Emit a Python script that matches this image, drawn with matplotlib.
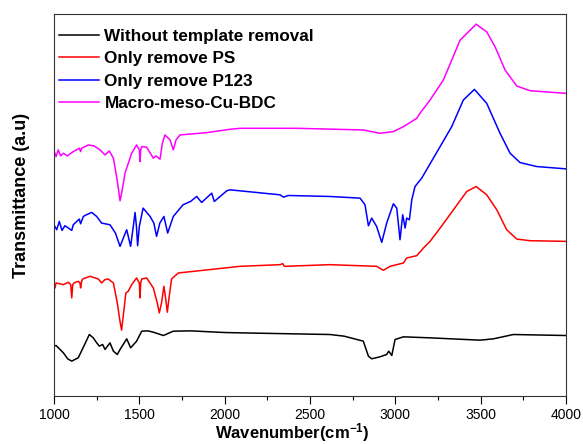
import matplotlib
matplotlib.use("Agg")
import matplotlib.pyplot as plt
from matplotlib.ticker import MultipleLocator

plt.rcParams["font.family"] = ["Liberation Sans", "DejaVu Sans"]
plt.rcParams["mathtext.fontset"] = "custom"
plt.rcParams["mathtext.rm"] = "Liberation Sans:bold"
plt.rcParams["mathtext.it"] = "Liberation Sans:bold"

# (wavenumber, transmittance a.u.)
black_wn = [1000, 1012, 1020, 1055, 1080, 1104, 1142, 1175, 1207, 1230, 1250, 1266, 1285, 1299,
            1328, 1348, 1371, 1387, 1426, 1449, 1484, 1514, 1550, 1582, 1641, 1699, 1800, 2000,
            2090, 2300, 2617, 2700, 2812, 2842, 2861, 2910, 2949, 2961, 2979, 2998, 3047, 3203,
            3496, 3574, 3691, 4000]
black_t = [150, 152, 148, 130, 112, 105, 115, 150, 185, 175, 160, 150, 155, 140,
           160, 135, 125, 140, 172, 145, 165, 195, 196, 192, 182, 195, 196, 191,
           190, 188, 185, 180, 165, 120, 112, 118, 125, 135, 122, 170, 178, 175,
           168, 172, 185, 182]

red_wn = [1000, 1006, 1012, 1055, 1084, 1098, 1104, 1110, 1117, 1142, 1152, 1156, 1162, 1168,
          1211, 1260, 1279, 1299, 1318, 1348, 1371, 1385, 1396, 1410, 1421, 1435, 1455, 1484,
          1500, 1504, 1508, 1514, 1543, 1582, 1605, 1617, 1630, 1644, 1655, 1664, 1675, 1689,
          1728, 2090, 2324, 2340, 2350, 2617, 2890, 2930, 2969, 3047, 3066, 3125, 3164, 3203,
          3262, 3340, 3418, 3473, 3535, 3594, 3652, 3711, 3789, 4000]
red_t = [340, 325, 340, 335, 342, 335, 295, 335, 340, 345, 340, 325, 345, 352,
         360, 352, 340, 350, 352, 340, 280, 230, 198, 260, 310, 315, 335, 355,
         340, 295, 340, 352, 355, 325, 280, 250, 280, 330, 290, 252, 300, 352,
         370, 390, 395, 398, 390, 395, 390, 378, 390, 400, 415, 422, 445, 465,
         505, 560, 615, 630, 605, 560, 500, 472, 467, 465]

blue_wn = [1000, 1016, 1031, 1047, 1064, 1085, 1104, 1113, 1148, 1156, 1172, 1190, 1221, 1250,
           1279, 1328, 1360, 1387, 1410, 1426, 1449, 1462, 1475, 1483, 1490, 1500, 1522, 1563,
           1585, 1601, 1620, 1644, 1666, 1699, 1756, 1800, 1836, 1865, 1924, 1939, 2012, 2031,
           2324, 2344, 2373, 2617, 2793, 2822, 2842, 2861, 2890, 2920, 2949, 2988, 3008, 3027,
           3043, 3057, 3066, 3082, 3096, 3115, 3154, 3262, 3330, 3398, 3463, 3535, 3613, 3672,
           3730, 3828, 4000]
blue_t = [515, 500, 525, 498, 512, 505, 498, 515, 532, 518, 540, 545, 552, 540,
          520, 515, 490, 450, 480, 500, 450, 500, 552, 510, 452, 510, 565, 540,
          520, 480, 520, 540, 490, 540, 575, 585, 600, 582, 610, 585, 617, 620,
          605, 598, 603, 600, 595, 575, 512, 535, 510, 462, 520, 578, 565, 470,
          545, 505, 535, 530, 590, 630, 655, 750, 810, 890, 922, 880, 790, 730,
          702, 690, 683]

magenta_wn = [1000, 1012, 1025, 1039, 1055, 1078, 1113, 1148, 1156, 1162, 1201, 1235, 1270, 1299,
              1324, 1348, 1370, 1387, 1400, 1416, 1455, 1484, 1500, 1504, 1508, 1514, 1543, 1582,
              1598, 1621, 1635, 1650, 1680, 1699, 1715, 1738, 1895, 2031, 2090, 2422, 2812, 2910,
              2988, 3047, 3125, 3144, 3203, 3281, 3379, 3473, 3535, 3584, 3643, 3711, 3789, 4000]
magenta_t = [738, 720, 740, 722, 730, 722, 735, 745, 735, 745, 755, 752, 740, 725,
             737, 715, 650, 587, 620, 670, 730, 755, 740, 705, 740, 750, 748, 715,
             722, 712, 760, 785, 770, 740, 770, 785, 792, 802, 805, 805, 800, 790,
             795, 810, 835, 850, 890, 950, 1070, 1118, 1095, 1050, 980, 932, 918, 910]

labels = ["Without template removal", "Only remove PS", "Only remove P123", "Macro-meso-Cu-BDC"]
colors = ["#000000", "#ff0000", "#0000ff", "#ff00ff"]

fig = plt.figure(figsize=(5.83, 4.44), dpi=100)
ax = fig.add_axes([0.0926, 0.108, 0.8784, 0.860])

series = [(black_wn, black_t), (red_wn, red_t), (blue_wn, blue_t), (magenta_wn, magenta_t)]
for (wn, t), lab, c in zip(series, labels, colors):
    ax.plot(wn, t, color=c, lw=1.1, label=lab)

ax.set_xlim(1000, 4000)
ax.set_ylim(0, 1148)
ax.xaxis.set_major_locator(MultipleLocator(500))
ax.xaxis.set_minor_locator(MultipleLocator(250))
ax.set_yticks([])
ax.tick_params(axis="x", which="major", direction="out", length=5.5, width=0.8,
               labelsize=10, pad=3)
ax.tick_params(axis="x", which="minor", direction="out", length=2.7, width=0.8)
for s in ax.spines.values():
    s.set_linewidth(0.8)
    s.set_color("#333333")

ax.set_xlabel(r"Wavenumber(cm$^{-1}$)", fontsize=12, fontweight="bold", labelpad=0)
ax.xaxis.set_label_coords(0.466, -0.065)
ax.set_ylabel("Transmittance (a.u)", fontsize=13, fontweight="bold")
ax.yaxis.set_label_coords(-0.047, 0.526)

leg = ax.legend(loc="upper left", bbox_to_anchor=(0.0, 0.975), frameon=False,
                prop={"weight": "bold", "size": 12.3},
                handlelength=2.35, handletextpad=0.3, labelspacing=0.44,
                borderaxespad=0.0, borderpad=0.3)

fig.savefig("out.png", dpi=100)
